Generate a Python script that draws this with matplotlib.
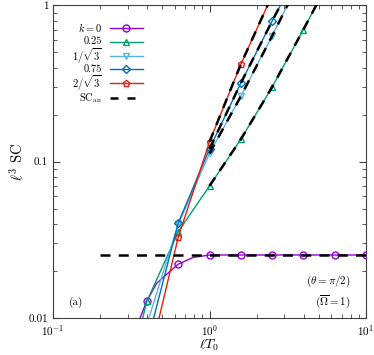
import numpy as np
import matplotlib
matplotlib.use("Agg")
import matplotlib.pyplot as plt

plt.rcParams['font.family'] = 'serif'
plt.rcParams['font.serif'] = ['cmr10', 'DejaVu Serif']
plt.rcParams['mathtext.fontset'] = 'cm'
plt.rcParams['axes.formatter.use_mathtext'] = True

# numerical data (lines with markers)
x_k0 = [0.316, 0.36, 0.398, 0.46, 0.631, 0.787, 1.0, 1.585, 2.512, 3.981, 6.31, 10.0]
y_k0 = [0.0050, 0.0100, 0.0129, 0.0167, 0.0221, 0.0244, 0.0253, 0.0253, 0.0253, 0.0253, 0.0253, 0.0253]
mk_k0 = [2, 4, 6, 7, 8, 9, 10, 11]

x_k025 = [0.316, 0.398, 0.631, 1.0, 1.585, 2.512, 3.981, 6.31]
y_k025 = [0.0051, 0.0128, 0.0356, 0.070, 0.139, 0.30, 0.70, 1.68]

x_k058 = [0.398, 0.631, 1.0, 1.585, 2.512, 3.981]
y_k058 = [0.0091, 0.0397, 0.113, 0.262, 0.637, 1.6]

x_k075 = [0.398, 0.631, 1.0, 1.585, 2.512, 3.981]
y_k075 = [0.0068, 0.0405, 0.121, 0.318, 0.794, 1.9]

x_k115 = [0.398, 0.631, 1.0, 1.585, 2.512]
y_k115 = [0.0047, 0.0328, 0.134, 0.42, 1.16]

# analytical curves (dashed)
xa_k0 = [0.2, 10.0]
ya_k0 = [0.0253, 0.0253]
xa_k025 = [1.0, 1.585, 2.512, 3.981, 6.31]
ya_k025 = [0.070, 0.139, 0.30, 0.70, 1.68]
xa_k058 = [1.0, 1.585, 2.512, 3.981]
ya_k058 = [0.113, 0.262, 0.637, 1.6]
xa_k075 = [1.0, 1.585, 2.512, 3.981]
ya_k075 = [0.121, 0.318, 0.794, 1.9]
xa_k115 = [1.0, 1.585, 2.512]
ya_k115 = [0.134, 0.42, 1.16]

labels = [r'$k = 0$', '0.25', r'$1/\sqrt{3}$', '0.75', r'$2/\sqrt{3}$']
colors = ['#9400D3', '#009E73', '#56B4E9', '#0072B2', '#E51E10']
markers = ['o', '^', 'v', 'D', 'p']
msizes = [5, 5, 5, 4, 5]

fig = plt.figure(figsize=(3.74, 3.55), dpi=100)
ax = fig.add_axes([53 / 374, 37 / 355, 313 / 374, 312.6 / 355])

series = [(x_k0, y_k0, mk_k0), (x_k025, y_k025, None), (x_k058, y_k058, None),
          (x_k075, y_k075, None), (x_k115, y_k115, None)]
for (xs, ys, mk), c, m, ms in zip(series, colors, markers, msizes):
    ax.plot(xs, ys, color=c, lw=1.0, marker=m, ms=ms, mfc='none', mec=c,
            mew=1.0, markevery=mk, zorder=3)

dash = (4, 3.3)
for xs, ys in [(xa_k0, ya_k0), (xa_k025, ya_k025), (xa_k058, ya_k058),
               (xa_k075, ya_k075), (xa_k115, ya_k115)]:
    ax.plot(xs, ys, color='black', lw=1.8, dashes=dash, zorder=4)

ax.set_xscale('log')
ax.set_yscale('log')
ax.set_xlim(0.1, 10)
ax.set_ylim(0.01, 1)
ax.set_yticks([0.01, 0.1, 1])
ax.set_yticklabels(['0.01', '0.1', '1'])
ax.tick_params(which='both', direction='in', top=True, right=True,
               labelsize=8, colors='0.25', labelcolor='black')
ax.tick_params(which='major', length=5)
ax.tick_params(which='minor', length=3)
for s in ax.spines.values():
    s.set_color('0.25')

ax.set_xlabel(r'$\ell T_0$', fontsize=10, labelpad=0)
ax.set_ylabel(r'$\ell^3\ \mathrm{SC}$', fontsize=10.5, labelpad=2)

# legend drawn by hand (labels right-aligned, sample to the right)
rows = [0.929, 0.884, 0.839, 0.797, 0.752, 0.703]
for lab, c, m, ms, yy in zip(labels, colors, markers, msizes, rows):
    ax.text(0.156, yy, lab, transform=ax.transAxes, ha='right', va='center', fontsize=7.5)
    ax.plot([0.183, 0.287], [yy, yy], transform=ax.transAxes, color=c, lw=1.0, clip_on=False)
    ax.plot([0.232], [yy], transform=ax.transAxes, color=c, marker=m, ms=ms,
            mfc='none', mec=c, mew=1.0, clip_on=False)
ax.text(0.156, rows[5], r'SC$_{\mathrm{an}}$', transform=ax.transAxes, ha='right',
        va='center', fontsize=7.5)
ax.plot([0.183, 0.287], [rows[5], rows[5]], transform=ax.transAxes, color='black',
        lw=1.8, dashes=(3.2, 3.6), clip_on=False)

ax.text(0.95, 0.118, r'$(\theta = \pi/2)$', transform=ax.transAxes, ha='right',
        va='center', fontsize=8)
ax.text(0.95, 0.049, r'$(\overline{\Omega} = 1)$', transform=ax.transAxes, ha='right',
        va='center', fontsize=8)
ax.text(0.051, 0.05, '(a)', transform=ax.transAxes, ha='left', va='center', fontsize=8)

fig.savefig('out.png', dpi=100)
